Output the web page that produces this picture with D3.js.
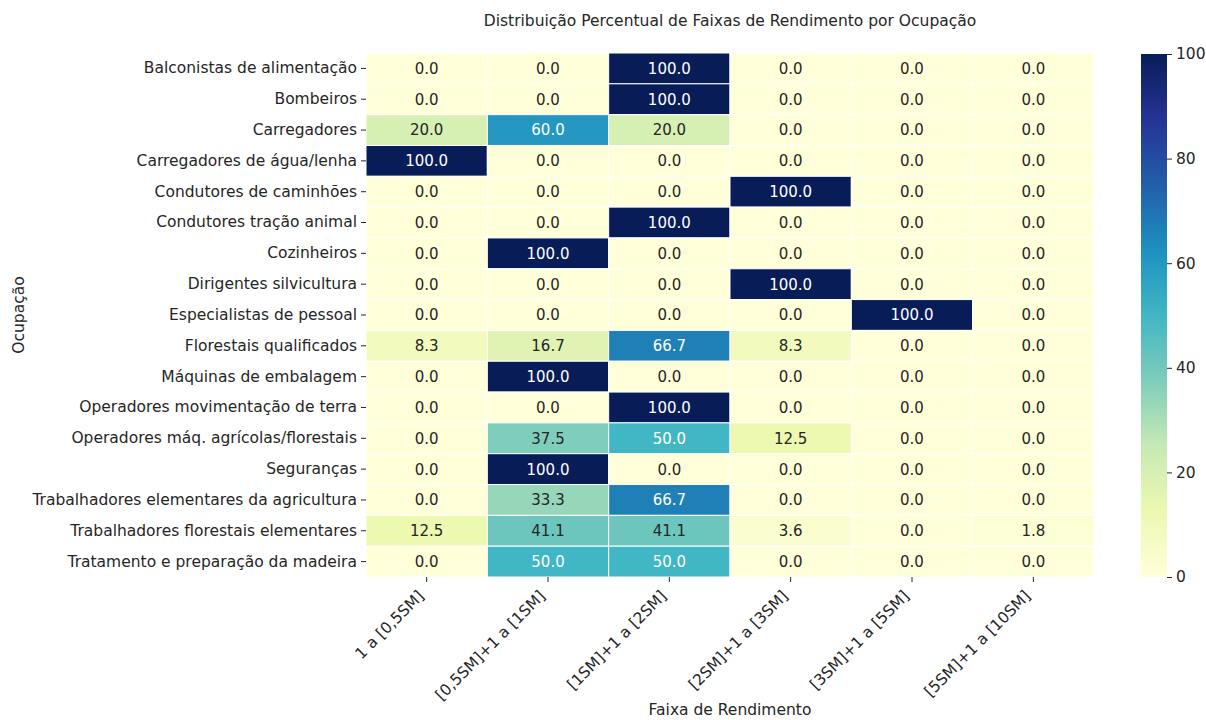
<!DOCTYPE html>
<html>
<head>
<meta charset="utf-8">
<script src="https://cdn.jsdelivr.net/npm/d3@7"></script>
<style>
  body { margin: 0; background: #fff; }
  text { font-family: "DejaVu Sans", sans-serif; fill: #262626; }
</style>
</head>
<body>
<div id="chart"></div>
<script>
const width = 1206, height = 720;
const margin = {top: 53, right: 112, bottom: 143, left: 366};
const labelSize = "15.5px";

// occupations (rows) and income bands (columns)
const occupations = [
  "Balconistas de alimentação", "Bombeiros", "Carregadores", "Carregadores de água/lenha",
  "Condutores de caminhões", "Condutores tração animal", "Cozinheiros", "Dirigentes silvicultura",
  "Especialistas de pessoal", "Florestais qualificados", "Máquinas de embalagem",
  "Operadores movimentação de terra", "Operadores máq. agrícolas/florestais", "Seguranças",
  "Trabalhadores elementares da agricultura", "Trabalhadores florestais elementares",
  "Tratamento e preparação da madeira"
];
const bands = ["1 a [0,5SM]", "[0,5SM]+1 a [1SM]", "[1SM]+1 a [2SM]",
               "[2SM]+1 a [3SM]", "[3SM]+1 a [5SM]", "[5SM]+1 a [10SM]"];
// percentage per occupation, one entry per band
const percentages = [
  [0, 0, 100, 0, 0, 0],
  [0, 0, 100, 0, 0, 0],
  [20, 60, 20, 0, 0, 0],
  [100, 0, 0, 0, 0, 0],
  [0, 0, 0, 100, 0, 0],
  [0, 0, 100, 0, 0, 0],
  [0, 100, 0, 0, 0, 0],
  [0, 0, 0, 100, 0, 0],
  [0, 0, 0, 0, 100, 0],
  [8.3, 16.7, 66.7, 8.3, 0, 0],
  [0, 100, 0, 0, 0, 0],
  [0, 0, 100, 0, 0, 0],
  [0, 37.5, 50, 12.5, 0, 0],
  [0, 100, 0, 0, 0, 0],
  [0, 33.3, 66.7, 0, 0, 0],
  [12.5, 41.1, 41.1, 3.6, 0, 1.8],
  [0, 50, 50, 0, 0, 0]
];
const colorTicks = [0, 20, 40, 60, 80, 100];

// YlGnBu colorbrewer stops, linear like matplotlib
const ylgnbu = ["#ffffd9", "#edf8b1", "#c7e9b4", "#7fcdbb", "#41b6c4", "#1d91c0", "#225ea8", "#253494", "#081d58"];
const color = d3.scaleLinear()
  .domain(d3.range(ylgnbu.length).map(i => i * 100 / (ylgnbu.length - 1)))
  .range(ylgnbu)
  .interpolate(d3.interpolateRgb);

const innerW = 1094 - margin.left;
const innerH = 577 - margin.top;

const svg = d3.select("#chart").append("svg")
  .attr("width", width)
  .attr("height", height);

const g = svg.append("g")
  .attr("transform", `translate(${margin.left}, ${margin.top})`);

const x = d3.scaleBand().domain(bands).range([0, innerW]);
const y = d3.scaleBand().domain(occupations).range([0, innerH]);

const cells = [];
percentages.forEach((row, i) => row.forEach((v, j) => {
  cells.push({occ: occupations[i], band: bands[j], value: v});
}));

g.selectAll("rect.cell")
  .data(cells)
  .enter()
  .append("rect")
  .attr("class", "cell")
  .attr("x", d => x(d.band))
  .attr("y", d => y(d.occ))
  .attr("width", x.bandwidth())
  .attr("height", y.bandwidth())
  .attr("fill", d => color(d.value))
  .attr("stroke", "#fff")
  .attr("stroke-width", 1);

function luminance(c) {
  const rgb = d3.rgb(c);
  const f = v => { v /= 255; return v <= 0.03928 ? v / 12.92 : Math.pow((v + 0.055) / 1.055, 2.4); };
  return 0.2126 * f(rgb.r) + 0.7152 * f(rgb.g) + 0.0722 * f(rgb.b);
}

g.selectAll("text.annot")
  .data(cells)
  .enter()
  .append("text")
  .attr("class", "annot")
  .attr("x", d => x(d.band) + x.bandwidth() / 2)
  .attr("y", d => y(d.occ) + y.bandwidth() / 2)
  .attr("dy", "0.36em")
  .style("text-anchor", "middle")
  .style("font-size", "15px")
  .style("fill", d => luminance(color(d.value)) > 0.408 ? "#262626" : "#ffffff")
  .text(d => d.value.toFixed(1));

// y axis
const yAxis = g.append("g")
  .call(d3.axisLeft(y).tickSize(5).tickPadding(4));
yAxis.select(".domain").remove();
yAxis.selectAll("line").attr("stroke", "#262626");
yAxis.selectAll("text").style("font-size", labelSize).style("font-family", "DejaVu Sans").attr("fill", "#262626");

// x axis
const xAxis = g.append("g")
  .attr("transform", `translate(0, ${innerH})`)
  .call(d3.axisBottom(x).tickSize(5));
xAxis.select(".domain").remove();
xAxis.selectAll("line").attr("stroke", "#262626");
xAxis.selectAll("text")
  .style("font-size", labelSize)
  .style("font-family", "DejaVu Sans")
  .attr("fill", "#262626")
  .style("text-anchor", "end")
  .attr("x", 0).attr("y", 0).attr("dy", 0)
  .attr("transform", "translate(-2, 20) rotate(-45)");

// title and axis labels
svg.append("text")
  .attr("x", margin.left + innerW / 2)
  .attr("y", 26)
  .style("text-anchor", "middle")
  .style("font-size", labelSize)
  .text("Distribuição Percentual de Faixas de Rendimento por Ocupação");

svg.append("text")
  .attr("x", margin.left + innerW / 2)
  .attr("y", 715)
  .style("text-anchor", "middle")
  .style("font-size", labelSize)
  .text("Faixa de Rendimento");

svg.append("text")
  .attr("transform", `translate(24, ${margin.top + innerH / 2}) rotate(-90)`)
  .style("text-anchor", "middle")
  .style("font-size", labelSize)
  .text("Ocupação");

// colorbar
const cbX = 1141, cbW = 26;
const cScale = d3.scaleLinear().domain([0, 100]).range([577, 54]);
const defs = svg.append("defs");
const grad = defs.append("linearGradient")
  .attr("id", "cbgrad")
  .attr("x1", 0).attr("y1", 1).attr("x2", 0).attr("y2", 0);
ylgnbu.forEach((c, i) => {
  grad.append("stop").attr("offset", i / (ylgnbu.length - 1)).attr("stop-color", c);
});
svg.append("rect")
  .attr("x", cbX)
  .attr("y", cScale(100))
  .attr("width", cbW)
  .attr("height", cScale(0) - cScale(100))
  .attr("fill", "url(#cbgrad)");

const cAxis = svg.append("g")
  .attr("transform", `translate(${cbX + cbW}, 0)`)
  .call(d3.axisRight(cScale).tickValues(colorTicks).tickSize(5).tickPadding(4));
cAxis.select(".domain").remove();
cAxis.selectAll("line").attr("stroke", "#262626");
cAxis.selectAll("text").style("font-size", labelSize).style("font-family", "DejaVu Sans").attr("fill", "#262626");
</script>
</body>
</html>
